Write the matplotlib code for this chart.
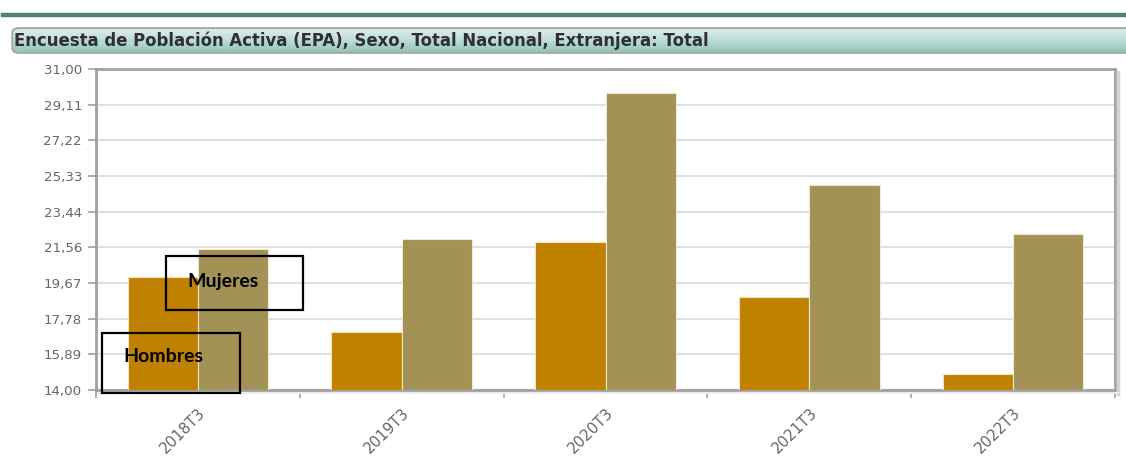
import numpy as np
import matplotlib
matplotlib.use("Agg")
import matplotlib.pyplot as plt
from matplotlib.patches import FancyBboxPatch, Rectangle
from matplotlib.ticker import FixedLocator, FuncFormatter

periodos = ["2018T3", "2019T3", "2020T3", "2021T3", "2022T3"]
hombres = [19.98, 17.05, 21.85, 18.90, 14.86]
mujeres = [21.46, 21.99, 29.73, 24.88, 22.27]
y_ticks = np.linspace(14, 31, 10)
titulo = "Encuesta de Población Activa (EPA), Sexo, Total Nacional, Extranjera: Total"

W, H = 1126, 459
fig = plt.figure(figsize=(W / 100, H / 100), dpi=100)
fig.patch.set_facecolor("white")


def fx(px):
    return px / W


def fy(py):
    return 1 - py / H


# green rule at the top
fig.add_artist(plt.Line2D([fx(3), 1], [fy(15), fy(15)], color="#4f8374", lw=3.2))

# header bar with vertical gradient
hax = fig.add_axes([fx(10), fy(54), 1 - fx(10) + 0.01, (54 - 27) / H])
hax.set_xlim(0, 1)
hax.set_ylim(0, 1)
hax.axis("off")
grad = np.linspace(0, 1, 64).reshape(-1, 1)
cmap = matplotlib.colors.LinearSegmentedColormap.from_list("hdr", ["#e3efed", "#bcdcd6", "#8dbfb8"])
img = hax.imshow(grad, cmap=cmap, aspect="auto", extent=[0, 1, 0, 1], origin="upper")
box = FancyBboxPatch((0.002, 0.04), 1.2, 0.92, boxstyle="round,pad=0,rounding_size=0.006",
                     transform=hax.transAxes, fc="none", ec="#a3aaa8", lw=1.4,
                     mutation_aspect=30)
hax.add_patch(box)
img.set_clip_path(box)
fig.text(fx(14), fy(41), titulo, fontsize=11.9, fontweight="bold", color="#303030",
         family="DejaVu Sans", va="center", ha="left")

# main chart
ax = fig.add_axes([fx(96), fy(390), (1115 - 96) / W, (390 - 69) / H])
x = np.arange(len(periodos))
bw = 0.345
ax.bar(x - bw / 2, np.array(hombres) - 14, bw, bottom=14, color="#c08000",
       edgecolor="#f3e3c0", linewidth=0.8, zorder=3)
ax.bar(x + bw / 2, np.array(mujeres) - 14, bw, bottom=14, color="#a39256",
       edgecolor="#efe8d2", linewidth=0.8, zorder=3)

ax.set_xlim(-0.5, len(periodos) - 0.5)
ax.set_ylim(14, 31)
ax.yaxis.set_major_locator(FixedLocator(y_ticks))
ax.yaxis.set_major_formatter(FuncFormatter(lambda v, p: f"{v:.2f}".replace(".", ",")))
ax.grid(axis="y", color="#d9d9d9", lw=1.2, zorder=0)
ax.set_axisbelow(True)

ax.xaxis.set_major_locator(FixedLocator(np.arange(-0.5, len(periodos), 1.0)))
ax.xaxis.set_major_formatter(FuncFormatter(lambda v, p: ""))
ax.xaxis.set_minor_locator(FixedLocator(x))
ax.set_xticklabels(periodos, minor=True)
ax.tick_params(axis="x", which="major", length=6, width=1.2, color="#a0a0a0", direction="out")
ax.tick_params(axis="x", which="minor", length=0, pad=11, labelsize=10.8, labelcolor="#666666")
for lbl in ax.get_xticklabels(minor=True):
    lbl.set_rotation(45)
    lbl.set_ha("right")
    lbl.set_va("top")
    lbl.set_rotation_mode("anchor")
ax.tick_params(axis="y", length=6, width=1.2, color="#a0a0a0", labelsize=9.6,
               labelcolor="#666666", pad=4)

for s in ax.spines.values():
    s.set_color("#a0a0a0")
    s.set_linewidth(2)

# soft shadow along the right and bottom edges of the frame
fig.add_artist(plt.Line2D([fx(1118), fx(1118)], [fy(72), fy(394)], color="#d4d4d4", lw=2.5))
fig.add_artist(plt.Line2D([fx(99), fx(1118)], [fy(393), fy(393)], color="#ececec", lw=1.5))

# boxed series labels
for (x0, y0, x1, y1) in [(166, 256, 303, 310), (102, 333, 240, 393)]:
    fig.add_artist(Rectangle((fx(x0), fy(y1)), fx(x1 - x0), (y1 - y0) / H,
                             fill=False, ec="black", lw=1.6, transform=fig.transFigure,
                             zorder=10))
fig.text(fx(187), fy(281), "Mujeres", fontsize=14, fontweight="bold",
         family="Lato", va="center", ha="left", color="black", zorder=11)
fig.text(fx(123), fy(357), "Hombres", fontsize=14, fontweight="bold",
         family="Lato", va="center", ha="left", color="black", zorder=11)

fig.savefig("out.png", dpi=100)
